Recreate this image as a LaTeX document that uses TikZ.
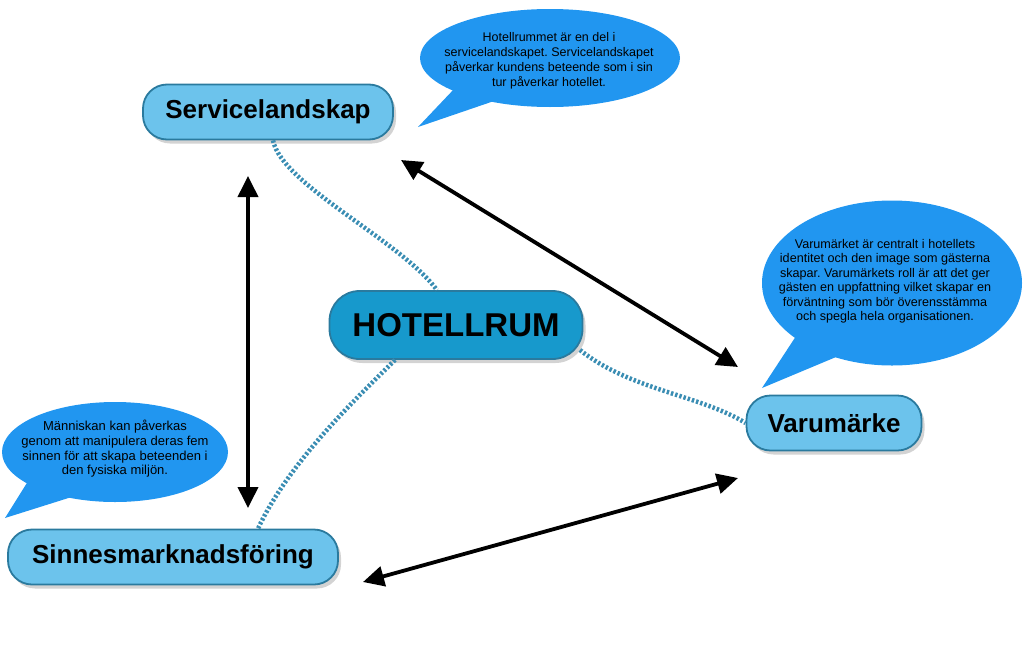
\documentclass[tikz,border=0pt]{standalone}
\usepackage{fontspec}
\setmainfont{Liberation Sans}
\usetikzlibrary{shapes.geometric,arrows.meta,shadows}
\definecolor{lblfill}{HTML}{6CC3EC}
\definecolor{lbldraw}{HTML}{2A7A9E}
\definecolor{hotfill}{HTML}{1799CC}
\definecolor{bubble}{HTML}{2196F0}
\definecolor{dotc}{HTML}{3A8DB3}
\frenchspacing
\begin{document}
\begin{tikzpicture}[x=1pt,y=-1pt,
  lblbox/.style={draw=lbldraw, line width=1.8pt, fill=lblfill, rounded corners=24pt,
    font=\bfseries\fontsize{26}{30}\selectfont, minimum height=55pt, inner sep=0pt,
    drop shadow={shadow xshift=3pt, shadow yshift=-4pt, opacity=.35}},
  hotbox/.style={lblbox, fill=hotfill, rounded corners=30pt, minimum height=68pt,
    font=\bfseries\fontsize{33}{38}\selectfont},
  bubshape/.style={ellipse, fill=bubble, draw=none, inner sep=0pt},
  bubtext/.style={align=center, font=\fontsize{12.5}{15}\selectfont, text=black},
  dblarrow/.style={line width=3.8pt, {Triangle[length=21pt,width=20pt]}-{Triangle[length=21pt,width=20pt]}},
  dotline/.style={dotc, line width=4.5pt, dash pattern=on 2.4pt off 2pt}
]
\useasboundingbox (0,0) rectangle (1024,653);

% speech bubbles
\node[bubshape, minimum width=260pt, minimum height=98pt] (b1) at (550,58) {};
\fill[bubble] (455,88) -- (418,127) -- (497,100) -- cycle;
\node[bubtext] (t1) at (549,61) {Hotellrummet är en del i\\servicelandskapet. Servicelandskapet\\påverkar kundens beteende som i sin\\tur påverkar hotellet.};

\node[bubshape, minimum width=260pt, minimum height=165pt] (b2) at (892,283) {};
\fill[bubble] (800,330) -- (762,388) -- (848,352) -- cycle;
\node[bubtext, font=\fontsize{12.6}{14.5}\selectfont] (t2) at (885,281) {Varumärket är centralt i hotellets\\identitet och den image som gästerna\\skapar. Varumärkets roll är att det ger\\gästen en uppfattning vilket skapar en\\förväntning som bör överensstämma\\och spegla hela organisationen.};

\node[bubshape, minimum width=226pt, minimum height=100pt] (b3) at (115,452) {};
\fill[bubble] (30,478) -- (5,518) -- (78,495) -- cycle;
\node[bubtext, font=\fontsize{13}{14.7}\selectfont] (t3) at (115,449) {Människan kan påverkas\\genom att manipulera deras fem\\sinnen för att skapa beteenden i\\den fysiska miljön.};

% main nodes
\node[lblbox, minimum width=250pt] (serv) at (268,112) {Servicelandskap};
\node[hotbox, minimum width=253pt] (hot) at (456,325) {HOTELLRUM};
\node[lblbox, minimum width=175pt] (varu) at (834,423) {Varumärke};
\node[lblbox, minimum width=330pt] (sinn) at (173,557) {Sinnesmarknadsföring};

% dotted links
\draw[dotline] (serv.south -| 273,0) .. controls (282,185) and (400,240) .. (hot.north -| 437,0);
\draw[dotline] (hot.south -| 395,0) .. controls (360,395) and (290,460) .. (sinn.north -| 258,0);
\draw[dotline] (580,350) .. controls (630,390) and (700,395) .. (varu.west);

% double arrows
\coordinate (v1) at (248,176);
\coordinate (v2) at (248,508);
\coordinate (d1) at (401,160);
\coordinate (d2) at (738,367);
\coordinate (h1) at (363,582);
\coordinate (h2) at (738,478);
\draw[dblarrow] (v1) -- (v2);
\draw[dblarrow] (d1) -- (d2);
\draw[dblarrow] (h1) -- (h2);
\end{tikzpicture}
\end{document}
